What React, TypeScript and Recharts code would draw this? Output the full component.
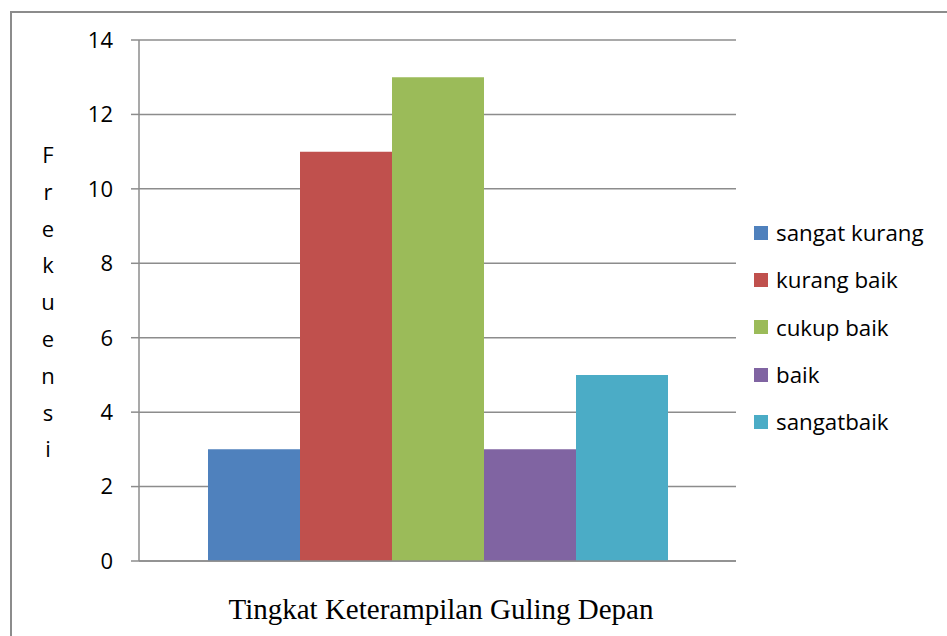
import { BarChart, Bar, XAxis, YAxis, CartesianGrid } from "recharts"

const categories = ["Tingkat Keterampilan Guling Depan"]
const seriesNames = ["sangat kurang", "kurang baik", "cukup baik", "baik", "sangatbaik"]
const seriesValues = [3, 11, 13, 3, 5]
const seriesColors = ["#4F81BD", "#C0504D", "#9BBB59", "#8064A2", "#4BACC6"]
const yTicks = [0, 2, 4, 6, 8, 10, 12, 14]
const yLabel = "Frekuensi"

const data = categories.map((name) => {
  const row: Record<string, string | number> = { name }
  seriesNames.forEach((s, i) => {
    row[s] = seriesValues[i]
  })
  return row
})

const font = "'Open Sans', Lato, sans-serif"

function LegendBox() {
  return (
    <div style={{ position: "absolute", left: 754, top: 209, fontFamily: font, fontSize: 22.3, color: "#000" }}>
      {seriesNames.map((s, i) => (
        <div key={s} style={{ display: "flex", alignItems: "center", height: 47.3 }}>
          <span style={{ width: 14, height: 14, background: seriesColors[i], marginRight: 8, display: "inline-block" }} />
          <span>{s}</span>
        </div>
      ))}
    </div>
  )
}

function YLabel() {
  return (
    <text x={48} y={163} fontFamily={font} fontSize={22} fill="#000" textAnchor="middle">
      {yLabel.split("").map((c, i) => (
        <tspan key={i} x={48} dy={i === 0 ? 0 : 36.8}>
          {c}
        </tspan>
      ))}
    </text>
  )
}

export default function App() {
  return (
    <div style={{ position: "absolute", left: 0, top: 0, width: 947, height: 636, background: "#fff" }}>
      <div
        style={{
          position: "absolute",
          left: 10,
          top: 11,
          width: 960,
          height: 640,
          borderLeft: "2px solid #8c8c8c",
          borderTop: "2px solid #8c8c8c",
        }}
      />
      <div style={{ position: "absolute", left: 0, top: 0 }}>
        <BarChart
          width={947}
          height={636}
          data={data}
          margin={{ top: 40, right: 211, bottom: 74, left: 0 }}
          barGap={0}
          barCategoryGap={69}
        >
          <CartesianGrid vertical={false} stroke="#8c8c8c" strokeWidth={1.5} />
          <XAxis dataKey="name" tick={false} tickLine={false} axisLine={{ stroke: "#8c8c8c", strokeWidth: 1.5 }} height={1} />
          <YAxis
            width={139}
            domain={[0, 14]}
            ticks={yTicks}
            interval={0}
            tickSize={8}
            tickMargin={18}
            tickLine={{ stroke: "#8c8c8c", strokeWidth: 1.5 }}
            axisLine={{ stroke: "#8c8c8c", strokeWidth: 1.5 }}
            tick={{ fontFamily: font, fontSize: 22, fill: "#000" }}
          />
          {seriesNames.map((s, i) => (
            <Bar key={s} dataKey={s} fill={seriesColors[i]} isAnimationActive={false} />
          ))}
          <YLabel />
          <text x={441} y={619} fontFamily="'Liberation Serif', 'Times New Roman', serif" fontSize={29} fill="#000" textAnchor="middle">
            {categories[0]}
          </text>
        </BarChart>
      </div>
      <LegendBox />
    </div>
  )
}
